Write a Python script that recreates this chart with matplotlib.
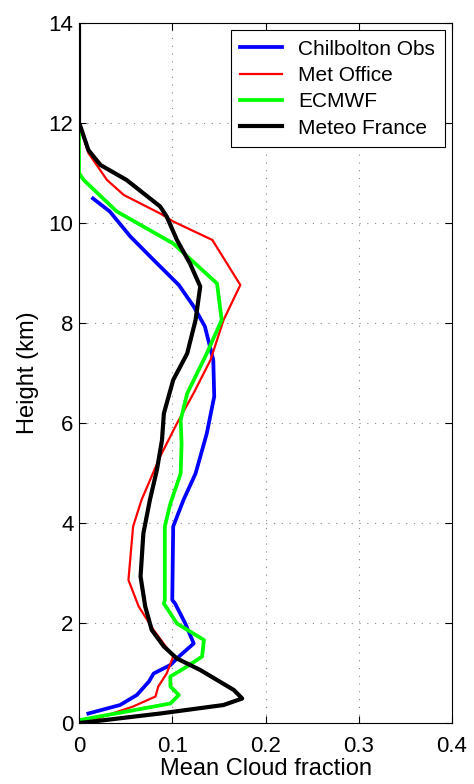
import matplotlib.pyplot as plt

# mean cloud fraction profiles (height in km)
obs_h = [10.49, 10.23, 9.73, 9.26, 8.76, 8.33, 7.93, 7.26, 6.53, 5.79, 4.99, 4.46, 3.93,
         2.46, 2.39, 1.99, 1.59, 1.36, 1.16, 0.99, 0.83, 0.56, 0.36, 0.19]
obs_cf = [0.015, 0.033, 0.055, 0.080, 0.107, 0.123, 0.135, 0.144, 0.145, 0.137, 0.125, 0.112, 0.101,
          0.100, 0.103, 0.114, 0.123, 0.109, 0.098, 0.080, 0.075, 0.062, 0.044, 0.010]

met_h = [14.0, 12.0, 11.4, 10.86, 10.56, 10.19, 10.03, 9.66, 8.76, 8.06, 7.26, 6.6, 5.99,
         5.33, 4.46, 3.93, 2.86, 2.33, 1.86, 1.33, 0.99, 0.73, 0.53, 0.33, 0.06, 0.0]
met_cf = [0.0, 0.0, 0.01, 0.030, 0.048, 0.087, 0.101, 0.143, 0.173, 0.155, 0.141, 0.123, 0.105,
          0.087, 0.067, 0.058, 0.053, 0.064, 0.080, 0.101, 0.094, 0.085, 0.082, 0.058, 0.015, 0.0]

ec_h = [14.0, 12.0, 11.0, 10.86, 10.23, 9.59, 8.79, 8.06, 7.39, 6.59, 6.06, 5.59, 4.99, 4.39,
        3.93, 2.46, 2.39, 1.99, 1.66, 1.33, 1.13, 0.93, 0.73, 0.56, 0.39, 0.23, 0.06, 0.0]
ec_cf = [0.0, 0.0, 0.0, 0.005, 0.0405, 0.101, 0.148, 0.153, 0.137, 0.116, 0.109, 0.110, 0.109, 0.098,
         0.092, 0.092, 0.091, 0.105, 0.134, 0.132, 0.116, 0.098, 0.098, 0.107, 0.098, 0.051, 0.001, 0.0]

mf_h = [14.0, 12.0, 11.96, 11.46, 11.16, 10.86, 10.33, 10.13, 9.66, 9.19, 8.73, 8.06, 7.39, 6.86,
        6.19, 5.66, 5.06, 4.46, 3.79, 2.93, 2.33, 1.86, 1.53, 1.29, 1.06, 0.86, 0.66, 0.49,
        0.36, 0.19, 0.03, 0.0]
mf_cf = [0.0, 0.0, 0.001, 0.010, 0.023, 0.051, 0.087, 0.094, 0.105, 0.119, 0.130, 0.125, 0.116, 0.101,
         0.091, 0.089, 0.0835, 0.076, 0.069, 0.066, 0.071, 0.078, 0.091, 0.105, 0.130, 0.148, 0.166, 0.175,
         0.155, 0.087, 0.015, 0.0]

plt.rcParams['font.family'] = ['Liberation Sans', 'DejaVu Sans']

fig = plt.figure(figsize=(4.74, 7.84), dpi=100)
ax = fig.add_axes([0.1667, 0.0778, 0.7869, 0.8929])

ax.plot(obs_cf, obs_h, color='#0000ff', lw=2.7, label='Chilbolton Obs')
ax.plot(met_cf, met_h, color='#ff0000', lw=1.6, label='Met Office')
ax.plot(ec_cf, ec_h, color='#00ff00', lw=2.7, label='ECMWF')
ax.plot(mf_cf, mf_h, color='black', lw=3.0, label='Meteo France')

ax.set_xlim(0, 0.4)
ax.set_ylim(0, 14)
ax.set_xticks([0, 0.1, 0.2, 0.3, 0.4])
ax.set_xticklabels(['0', '0.1', '0.2', '0.3', '0.4'])
ax.set_yticks(range(0, 15, 2))
ax.grid(True, linestyle=(0, (1, 6)), color='#888888', linewidth=0.8)
ax.tick_params(direction='in', top=True, right=True, labelsize=16, length=5, pad=4)
ax.tick_params(axis='x', pad=9)
ax.set_xlabel('Mean Cloud fraction', fontsize=17, labelpad=1)
ax.set_ylabel('Height (km)', fontsize=17, labelpad=7)

leg = ax.legend(loc='upper right', fontsize=15, fancybox=False, framealpha=1,
                edgecolor='black', handlelength=2.0, handletextpad=0.8,
                borderpad=0.45, labelspacing=0.35, borderaxespad=0.35)
leg.get_frame().set_linewidth(0.8)

fig.savefig('out.png', dpi=100)
